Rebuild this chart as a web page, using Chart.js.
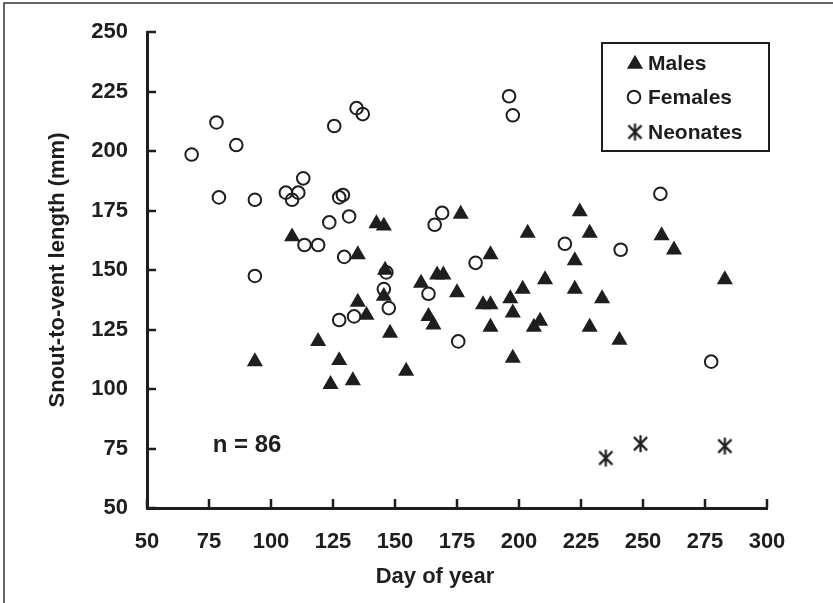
<!DOCTYPE html>
<html>
<head>
<meta charset="utf-8">
<script src="https://cdn.jsdelivr.net/npm/chart.js@4/dist/chart.umd.min.js"></script>
<style>
  html, body { margin: 0; padding: 0; background: #fff; }
  #wrap { width: 833px; height: 603px; position: relative; }
</style>
</head>
<body>
<div id="wrap"><canvas id="c" width="833" height="603"></canvas></div>
<script>
// ---- data ----
const xTicks = [50, 75, 100, 125, 150, 175, 200, 225, 250, 275, 300];
const yTicks = [50, 75, 100, 125, 150, 175, 200, 225, 250];

const maleDay = [93.5, 108.5, 119, 124, 127.5, 133, 135, 135, 138.5, 142.5, 145.5, 146, 145.5, 148, 154.5, 160.5, 163.5, 165.5, 167, 169.5, 175, 176.5, 185.5, 188.5, 188.5, 188.5, 196.5, 197.5, 197.5, 201.5, 203.5, 206, 208.5, 210.5, 222.5, 222.5, 224.5, 228.5, 228.5, 233.5, 240.5, 257.5, 262.5, 283];
const maleSVL = [111.5, 164, 120, 102, 112, 103.5, 156.5, 136.5, 131, 169.5, 168.5, 150, 139, 123.5, 107.5, 144.5, 130.5, 127, 148, 148, 140.5, 173.5, 135.5, 135.5, 156.5, 126, 138, 132, 113, 142, 165.5, 126, 128.5, 146, 154, 142, 174.5, 165.5, 126, 138, 120.5, 164.5, 158.5, 146];

const femaleDay = [68, 78, 79, 86, 93.5, 93.5, 106, 108.5, 111, 113, 113.5, 119, 123.5, 125.5, 127.5, 129, 131.5, 129.5, 127.5, 134.5, 137, 133.5, 146.5, 145.5, 147.5, 163.5, 166, 169, 175.5, 182.5, 196, 197.5, 218.5, 241, 257, 277.5];
const femaleSVL = [198.5, 212, 180.5, 202.5, 179.5, 147.5, 182.5, 179.5, 182.5, 188.5, 160.5, 160.5, 170, 210.5, 180.5, 181.5, 172.5, 155.5, 129, 218, 215.5, 130.5, 149, 142, 134, 140, 169, 174, 120, 153, 223, 215, 161, 158.5, 182, 111.5];

const neonateDay = [235, 249, 283];
const neonateSVL = [71, 77, 76];

const seriesNames = ['Males', 'Females', 'Neonates'];
const nLabel = 'n = 86';
const xTitle = 'Day of year';
const yTitle = 'Snout-to-vent length (mm)';

// ---- styling ----
const INK = '#1e1e1e';
const FONT = '"Liberation Sans", Arial, Helvetica, sans-serif';

function toPoints(xs, ys) { return xs.map((x, i) => ({ x: x, y: ys[i] })); }

function makeAsterisk(size, lw) {
  const c = document.createElement('canvas');
  c.width = size; c.height = size;
  const g = c.getContext('2d');
  g.strokeStyle = INK; g.lineWidth = lw; g.lineCap = 'butt';
  const m = size / 2, r = size / 2 - 1;
  g.beginPath();
  g.moveTo(m, m - r); g.lineTo(m, m + r);
  const d = r * 0.78;
  g.moveTo(m - d, m - d); g.lineTo(m + d, m + d);
  g.moveTo(m + d, m - d); g.lineTo(m - d, m + d);
  g.stroke();
  return c;
}
const asterisk = makeAsterisk(19, 2.2);

function drawTriangle(ctx, x, y, r) {
  ctx.beginPath();
  let a = 0;
  ctx.moveTo(x + Math.sin(a) * r, y - Math.cos(a) * r);
  a += 2 * Math.PI / 3;
  ctx.lineTo(x + Math.sin(a) * r, y - Math.cos(a) * r);
  a += 2 * Math.PI / 3;
  ctx.lineTo(x + Math.sin(a) * r, y - Math.cos(a) * r);
  ctx.closePath();
  ctx.fillStyle = INK; ctx.fill();
}

const decorations = {
  id: 'decorations',
  beforeDraw(chart) {
    const ctx = chart.ctx;
    ctx.save();
    ctx.fillStyle = '#fff';
    ctx.fillRect(0, 0, chart.width, chart.height);
    // figure frame (left and top edges)
    ctx.strokeStyle = '#333'; ctx.lineWidth = 1.5;
    ctx.beginPath();
    ctx.moveTo(4, chart.height); ctx.lineTo(4, 3); ctx.lineTo(chart.width, 3);
    ctx.stroke();
    ctx.restore();
  },
  afterDraw(chart) {
    const ctx = chart.ctx;
    const xs = chart.scales.x, ys = chart.scales.y;
    const ca = chart.chartArea;
    ctx.save();
    // inward tick marks
    ctx.strokeStyle = INK; ctx.lineWidth = 2.5;
    ctx.beginPath();
    yTicks.forEach(v => {
      const py = Math.round(ys.getPixelForValue(v));
      ctx.moveTo(ca.left, py); ctx.lineTo(ca.left + 9, py);
    });
    xTicks.forEach(v => {
      const px = Math.round(xs.getPixelForValue(v));
      ctx.moveTo(px, ca.bottom); ctx.lineTo(px, ca.bottom - 9);
    });
    ctx.stroke();

    // axis titles
    ctx.fillStyle = INK;
    ctx.font = 'bold 22px ' + FONT;
    ctx.textAlign = 'center'; ctx.textBaseline = 'middle';
    ctx.fillText(xTitle, 435, 577);
    ctx.save();
    ctx.translate(58, (ca.top + ca.bottom) / 2);
    ctx.rotate(-Math.PI / 2);
    ctx.fillText(yTitle, 0, 0);
    ctx.restore();

    // sample size note
    ctx.font = 'bold 24px ' + FONT;
    ctx.textAlign = 'left';
    ctx.fillText(nLabel, xs.getPixelForValue(76.5), ys.getPixelForValue(76.5));

    // legend box
    ctx.lineWidth = 2; ctx.strokeStyle = INK;
    ctx.strokeRect(602, 43, 167, 108);
    ctx.font = 'bold 21px ' + FONT;
    ctx.textBaseline = 'middle';
    const rows = [63, 97, 132];
    drawTriangle(ctx, 635, rows[0] + 1, 9.3);
    ctx.beginPath(); ctx.arc(634, rows[1], 6.3, 0, Math.PI * 2);
    ctx.lineWidth = 2; ctx.stroke();
    ctx.drawImage(asterisk, 635 - 9.5, rows[2] - 9.5);
    ctx.fillStyle = INK;
    seriesNames.forEach((n, i) => ctx.fillText(n, 648, rows[i] + 1));
    ctx.restore();
  }
};

function fixScale(w, h) {
  return function (scale) {
    if (w !== null) scale.width = w;
    if (h !== null) scale.height = h;
    scale.paddingLeft = 0; scale.paddingRight = 0;
    scale.paddingTop = 0; scale.paddingBottom = 0;
  };
}

new Chart(document.getElementById('c'), {
  type: 'scatter',
  data: {
    datasets: [
      {
        label: seriesNames[0],
        data: toPoints(maleDay, maleSVL),
        pointStyle: 'triangle',
        pointRadius: 9.3,
        pointBackgroundColor: INK,
        pointBorderColor: INK,
        pointBorderWidth: 0
      },
      {
        label: seriesNames[1],
        data: toPoints(femaleDay, femaleSVL),
        pointStyle: 'circle',
        pointRadius: 6.3,
        pointBackgroundColor: 'rgba(255,255,255,0)',
        pointBorderColor: INK,
        pointBorderWidth: 2
      },
      {
        label: seriesNames[2],
        data: toPoints(neonateDay, neonateSVL),
        pointStyle: asterisk,
        pointRadius: 9.5
      }
    ]
  },
  options: {
    responsive: false,
    animation: false,
    events: [],
    layout: { padding: { left: 0, top: 32, right: 66, bottom: 0 } },
    plugins: {
      legend: { display: false },
      tooltip: { enabled: false }
    },
    scales: {
      x: {
        type: 'linear', min: 50, max: 300,
        afterBuildTicks: s => { s.ticks = xTicks.map(v => ({ value: v })); },
        afterFit: fixScale(null, 95),
        grid: { display: false, drawTicks: false },
        border: { display: true, width: 3, color: INK },
        ticks: { color: INK, padding: 21, font: { family: FONT, size: 22, weight: 'bold' }, maxRotation: 0, autoSkip: false },
        title: { display: false }
      },
      y: {
        type: 'linear', min: 50, max: 250,
        afterBuildTicks: s => { s.ticks = yTicks.map(v => ({ value: v })); },
        afterFit: fixScale(147, null),
        grid: { display: false, drawTicks: false },
        border: { display: true, width: 3, color: INK },
        ticks: { color: INK, padding: 19, font: { family: FONT, size: 22, weight: 'bold' }, autoSkip: false },
        title: { display: false }
      }
    }
  },
  plugins: [decorations]
});
</script>
</body>
</html>
